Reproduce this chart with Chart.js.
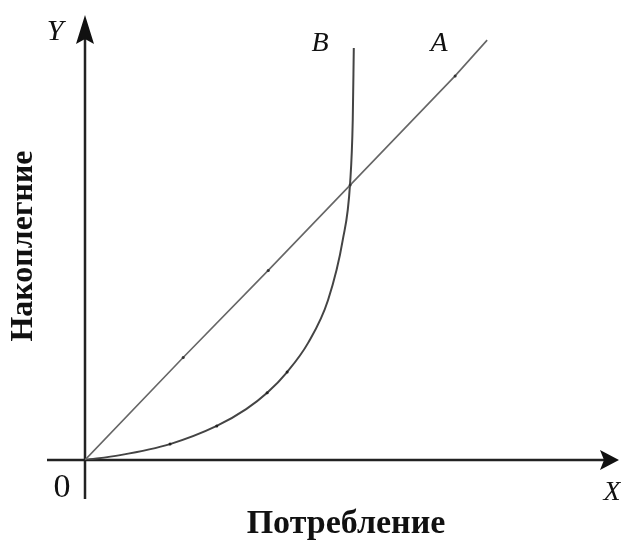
<!DOCTYPE html>
<html>
<head>
<meta charset="utf-8">
<script src="https://cdn.jsdelivr.net/npm/chart.js@4"></script>
<style>
  html, body { margin: 0; padding: 0; background: #fff; }
  #wrap { width: 621px; height: 543px; }
</style>
</head>
<body>
<div id="wrap"><canvas id="chart" width="621" height="543"></canvas></div>
<script>
// line A: straight line from the origin
const lineAX = [0, 1.87, 3.49, 5.05, 7.05, 7.66];
const lineAY = [0, 2.32, 4.29, 6.22, 8.69, 9.50];

// curve B: bends up sharply
const curveBX = [0, 0.67, 1.62, 2.51, 3.07, 3.47, 3.85, 4.25, 4.63, 4.91, 5.05, 5.10, 5.12];
const curveBY = [0, 0.11, 0.36, 0.77, 1.15, 1.52, 1.99, 2.65, 3.62, 4.98, 6.27, 7.69, 9.32];

const xTitle = 'Потребление';
const yTitle = 'Накоплегние';

const toPoints = (xs, ys) => xs.map((x, i) => ({ x: x, y: ys[i] }));

const axesPlugin = {
    id: 'axesPlugin',
    beforeDatasetsDraw(chart) {
        const ctx = chart.ctx;
        const x0 = chart.scales.x.getPixelForValue(0);
        const y0 = chart.scales.y.getPixelForValue(0);

        ctx.save();
        ctx.strokeStyle = '#222';
        ctx.fillStyle = '#111';
        ctx.lineWidth = 2.5;

        // x axis
        ctx.beginPath();
        ctx.moveTo(47, y0);
        ctx.lineTo(604, y0);
        ctx.stroke();
        ctx.beginPath();
        ctx.moveTo(619, y0);
        ctx.lineTo(600, y0 - 10);
        ctx.lineTo(604, y0);
        ctx.lineTo(600, y0 + 10);
        ctx.closePath();
        ctx.fill();

        // y axis
        ctx.beginPath();
        ctx.moveTo(x0, 499);
        ctx.lineTo(x0, 38);
        ctx.stroke();
        ctx.beginPath();
        ctx.moveTo(x0, 15);
        ctx.lineTo(x0 - 9, 44);
        ctx.lineTo(x0, 39);
        ctx.lineTo(x0 + 9, 44);
        ctx.closePath();
        ctx.fill();
        ctx.restore();
    },
    afterDraw(chart) {
        const ctx = chart.ctx;
        ctx.save();
        ctx.fillStyle = '#111';
        ctx.textAlign = 'center';
        ctx.textBaseline = 'middle';

        ctx.font = 'italic 30px "Liberation Serif", serif';
        ctx.fillText('Y', 55, 32);
        ctx.font = 'italic 28px "Liberation Serif", serif';
        ctx.fillText('B', 320, 44);
        ctx.fillText('A', 439, 44);
        ctx.fillText('X', 612, 493);

        ctx.font = '34px "Liberation Serif", serif';
        ctx.fillText('0', 62, 488);

        ctx.font = 'bold 34px "Liberation Serif", serif';
        ctx.fillText(xTitle, 346, 524);

        ctx.translate(24, 246);
        ctx.rotate(-Math.PI / 2);
        ctx.font = 'bold 32px "Liberation Serif", serif';
        ctx.fillText(yTitle, 0, 0);
        ctx.restore();
    }
};

const ctx = document.getElementById('chart').getContext('2d');
const chart = new Chart(ctx, {
    type: 'scatter',
    data: {
        datasets: [
            {
                label: 'A',
                data: toPoints(lineAX, lineAY),
                showLine: true,
                borderColor: '#666',
                borderWidth: 1.6,
                pointRadius: [0, 1.5, 1.5, 1.5, 1.5, 0],
                pointBackgroundColor: '#333',
                pointBorderWidth: 0
            },
            {
                label: 'B',
                data: toPoints(curveBX, curveBY),
                showLine: true,
                cubicInterpolationMode: 'monotone',
                borderColor: '#444',
                borderWidth: 2,
                pointRadius: [0, 0, 1.5, 1.5, 0, 1.5, 1.5, 0, 0, 0, 0, 0, 0],
                pointBackgroundColor: '#222',
                pointBorderWidth: 0
            }
        ]
    },
    options: {
        responsive: false,
        animation: false,
        layout: { padding: { left: 85, right: 11, top: 18, bottom: 83 } },
        plugins: {
            legend: { display: false },
            tooltip: { enabled: false }
        },
        scales: {
            x: { type: 'linear', min: 0, max: 10, display: false },
            y: { type: 'linear', min: 0, max: 10, display: false }
        }
    },
    plugins: [axesPlugin]
});
</script>
</body>
</html>
